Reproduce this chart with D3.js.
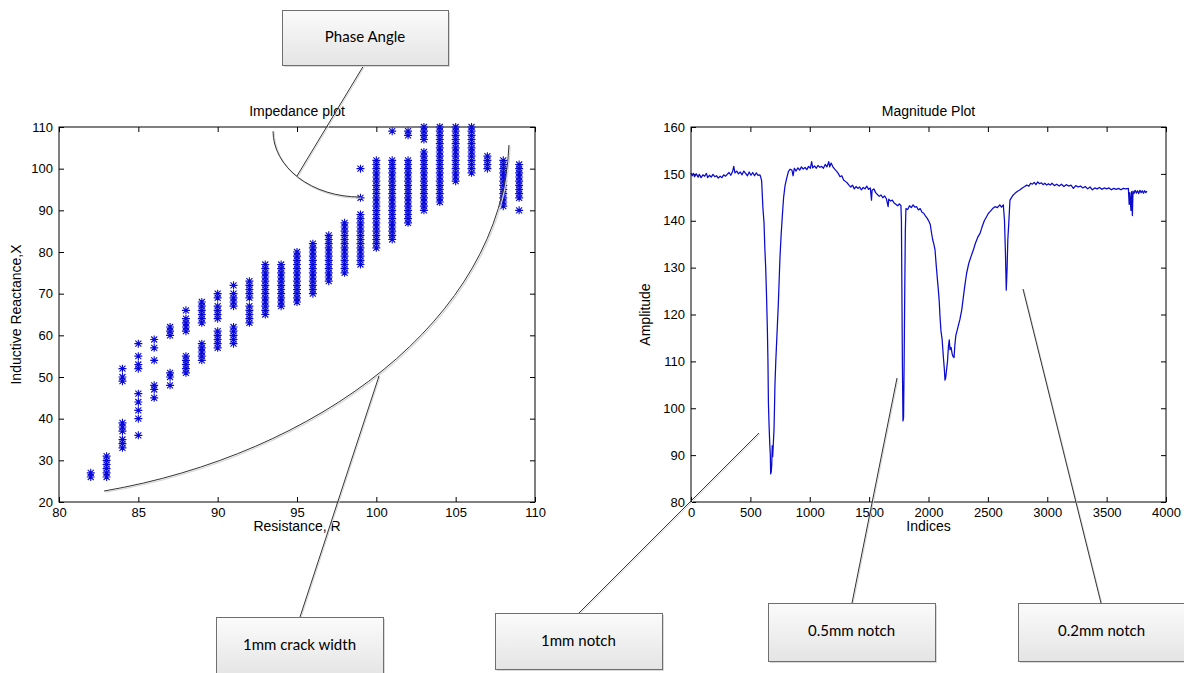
<!DOCTYPE html>
<html>
<head>
<meta charset="utf-8">
<script src="https://cdn.jsdelivr.net/npm/d3@7"></script>
<style>
  body { margin: 0; background: #fff; }
  svg { display: block; }
  text { font-family: "Liberation Sans", Arial, sans-serif; fill: #000; }
  .callout text { font-family: Lato, "Open Sans", sans-serif; font-size: 15px; }
</style>
</head>
<body>
<svg></svg>
<script>
const dims = { width: 1184, height: 673 }

// impedance plot: resistance columns and the reactance values stacked on each
const impedanceR = [82, 83, 84, 85, 86, 87, 88, 89, 90, 91, 92, 93, 94, 95, 96, 97, 98, 99, 100, 101, 102, 103, 104, 105, 106, 107, 108, 109]
const impedanceX = [
  [26, 27],
  [26, 27, 28, 29, 30, 31],
  [33, 34, 35, 37, 38, 39, 49, 50, 52],
  [36, 40, 42, 44, 46, 52, 53, 55, 58],
  [45, 47, 48, 54, 57, 59],
  [48, 50, 51, 60, 61, 62],
  [51, 52, 53, 54, 55, 61, 62, 63, 64, 66],
  [54, 55, 56, 57, 58, 63, 64, 65, 66, 67, 68],
  [57, 58, 59, 60, 61, 64, 65, 66, 67, 69, 70],
  [58, 59, 60, 61, 62, 67, 68, 69, 70, 72],
  [63, 64, 65, 66, 67, 69, 70, 71, 72, 73],
  [65, 66, 67, 68, 69, 70, 71, 72, 73, 74, 75, 76, 77],
  [67, 68, 69, 70, 71, 72, 73, 74, 75, 76, 77],
  [68, 69, 70, 71, 72, 73, 74, 75, 76, 77, 78, 79, 80],
  [70, 71, 72, 73, 74, 75, 76, 77, 78, 79, 80, 81, 82],
  [73, 74, 75, 76, 77, 78, 79, 80, 81, 82, 83, 84],
  [75, 76, 77, 78, 79, 80, 81, 82, 83, 84, 85, 86, 87],
  [77, 78, 79, 80, 81, 82, 83, 84, 85, 86, 87, 88, 89, 93, 100],
  [81, 82, 83, 84, 85, 86, 87, 88, 89, 90, 91, 92, 93, 94, 95, 96, 97, 98, 99, 100, 101, 102],
  [83, 84, 85, 86, 87, 88, 89, 90, 91, 92, 93, 94, 95, 96, 97, 98, 99, 100, 101, 102, 109],
  [87, 88, 89, 90, 91, 92, 93, 94, 95, 96, 97, 98, 99, 100, 101, 102, 108, 109],
  [90, 91, 92, 93, 94, 95, 96, 97, 98, 99, 100, 101, 102, 103, 104, 107, 108, 109, 110],
  [92, 93, 94, 95, 96, 97, 98, 99, 100, 101, 102, 103, 104, 105, 106, 107, 108, 109, 110],
  [97, 98, 99, 100, 101, 102, 103, 104, 105, 106, 107, 108, 109, 110],
  [99, 100, 101, 102, 103, 104, 105, 106, 107, 108, 109, 110],
  [100, 101, 102, 103],
  [91, 92, 93, 94, 95, 96, 97, 98, 99, 100, 101, 102],
  [90, 93, 94, 95, 96, 97, 98, 99, 100, 101]
]
const resistanceTicks = [80, 85, 90, 95, 100, 105, 110]
const reactanceTicks = [20, 30, 40, 50, 60, 70, 80, 90, 100, 110]

// magnitude plot: [index, amplitude]
const magnitudeSamples = [
  [0,150.2],[10,149.6],[20,150.1],[30,149.4],[45,150],[60,149.3],[70,149.9],[85,149.2],[100,149.8],[115,149.5],
  [130,150.1],[140,149.2],[155,149.7],[170,149.3],[185,149.9],[200,149.4],[215,149.6],[230,149.1],[245,149.5],[260,149.2],
  [275,149.8],[290,149.5],[305,149.9],[320,150.3],[335,149.7],[350,150.5],[360,151.6],[370,150.2],[385,150.6],[400,150],
  [415,150.4],[430,149.8],[445,150.6],[460,150.1],[475,149.6],[490,150.4],[505,149.7],[520,150.3],[535,149.6],[550,150.2],
  [565,149.7],[580,149.8],[585,149.5],[595,148.5],[605,143],[615,139.5],[622,134],[629,130],[636,124],[643,117],
  [648,110],[652,101],[658,96],[663,92.5],[668,90],[671,86],[676,86.5],[680,88],[684,92],[688,89.7],
  [699,95.4],[703,100],[707,105],[714,110],[721,114],[728,118],[735,122],[742,127],[749,132],[759,137],
  [769,141],[780,145],[792,147.5],[805,149],[820,150.5],[835,151],[850,150.8],[860,149.6],[870,151.2],[885,150.6],
  [900,151.3],[915,150.8],[930,151.5],[945,151],[960,151.4],[975,150.9],[990,151.6],[1005,151.2],[1016,152.6],[1025,151.3],
  [1040,151.7],[1055,151.2],[1070,151.8],[1085,151.4],[1100,151.6],[1115,151.2],[1130,152],[1145,151.5],[1160,152.6],[1168,151.5],
  [1180,152.3],[1195,151.5],[1210,151],[1225,150.6],[1240,150.1],[1255,149.4],[1270,149.6],[1285,148.7],[1300,148.4],[1315,148.1],
  [1330,147.6],[1345,147.2],[1360,147.6],[1375,146.8],[1390,147.3],[1405,146.9],[1420,147.2],[1435,146.6],[1450,147.1],[1465,146.8],
  [1480,147.4],[1495,146.7],[1510,147],[1520,144.4],[1525,146.5],[1540,146.8],[1555,146],[1570,145.6],[1585,145.2],[1600,145.5],
  [1615,144.9],[1630,145.3],[1645,144.7],[1660,143],[1665,144.6],[1680,144.2],[1695,144.4],[1710,143.8],[1725,143.5],[1740,143.2],
  [1755,143.6],[1768,143.2],[1772,140],[1776,125],[1780,110],[1785,97.3],[1790,98],[1795,110],[1800,125],[1805,138],
  [1810,142.6],[1825,142.4],[1840,143.2],[1855,142.8],[1870,143.4],[1885,142.9],[1900,143],[1915,142.3],[1930,142.6],[1945,141.8],
  [1960,141.6],[1975,141],[1990,140.5],[2005,139.8],[2015,139.2],[2025,137.5],[2035,136],[2045,135],[2055,133.8],[2065,130.5],
  [2075,127.5],[2083,125.2],[2090,123],[2097,119.5],[2105,116.5],[2115,114.6],[2125,111],[2133,108.5],[2139,106],[2145,106.5],
  [2152,108.2],[2160,110],[2168,113.2],[2175,114.6],[2181,112.5],[2190,113],[2200,111.5],[2208,111],[2215,110.8],[2222,113.5],
  [2230,115.5],[2237,116.2],[2250,117.5],[2265,119],[2280,121],[2290,123],[2305,126],[2321,128.8],[2340,131],[2360,132.5],
  [2378,133.8],[2395,135.2],[2415,136.5],[2434,137.3],[2450,138.6],[2470,140],[2490,140.9],[2505,141.6],[2520,142],[2540,142.6],
  [2560,143],[2580,142.8],[2600,143.4],[2615,142.9],[2630,143.4],[2640,140],[2648,133],[2655,125.2],[2662,130],[2668,136],
  [2676,139.5],[2686,144.4],[2700,145],[2714,145.5],[2730,145.9],[2750,146.3],[2771,146.6],[2790,147],[2810,147.3],[2827,147.6],
  [2845,147.4],[2860,148],[2875,147.8],[2890,148.2],[2905,147.7],[2920,148.3],[2935,147.9],[2950,148.1],[2965,147.7],[2980,148],
  [2995,147.6],[3010,147.9],[3025,147.6],[3040,148],[3060,147.5],[3080,147.8],[3100,147.4],[3120,147.8],[3140,147.3],[3160,147.7],
  [3180,147.4],[3200,147.6],[3220,146.9],[3240,147.5],[3260,147.2],[3280,147.4],[3300,147],[3320,147.3],[3340,146.8],[3360,147.2],
  [3380,146.6],[3400,147],[3420,146.8],[3440,147.1],[3460,146.7],[3480,147],[3500,146.8],[3520,147],[3540,146.6],[3560,146.9],
  [3580,146.7],[3600,146.9],[3620,146.6],[3640,146.9],[3660,146.8],[3683,146.9],[3690,143.5],[3695,146],[3705,142.2],[3710,146.2],
  [3717,141.1],[3722,146.3],[3730,145.8],[3740,146.5],[3750,145.9],[3760,146.4],[3770,145.8],[3780,146.5],[3790,146],[3800,146.4],
  [3810,145.9],[3820,146.4],[3830,146],[3840,146.3]
]
const indexTicks = [0, 500, 1000, 1500, 2000, 2500, 3000, 3500, 4000]
const amplitudeTicks = [80, 90, 100, 110, 120, 130, 140, 150, 160]

// hand-drawn annotation guides on the impedance plot, in data units
const phaseArcEnds = [[93.49, 109.0], [98.97, 93.2]]
// cubic bezier: start, control 1, control 2, end
const crackArc = [[82.84, 22.64], [96.13, 31.28], [107.92, 63.68], [108.36, 105.68]]

// callout boxes (page layout)
const callouts = [
  { text: 'Phase Angle', x: 282, y: 10, w: 166, h: 55, from: [364, 65], to: [297, 176] },
  { text: '1mm crack width', x: 216, y: 617, w: 167, h: 60, from: [300, 617], to: [379, 376] },
  { text: '1mm notch', x: 495, y: 613, w: 167, h: 56, from: [579, 613], to: [759, 433] },
  { text: '0.5mm notch', x: 768, y: 603, w: 167, h: 58, from: [852, 603], to: [897, 378] },
  { text: '0.2mm notch', x: 1018, y: 603, w: 167, h: 58, from: [1101, 603], to: [1023, 289] }
]

const svg = d3.select('svg')
  .attr('width', dims.width)
  .attr('height', dims.height)

const defs = svg.append('defs')
const grad = defs.append('linearGradient').attr('id', 'boxfill')
  .attr('x1', 0).attr('y1', 0).attr('x2', 0).attr('y2', 1)
grad.append('stop').attr('offset', '0%').attr('stop-color', '#fbfbfb')
grad.append('stop').attr('offset', '100%').attr('stop-color', '#e4e4e4')

// scales
const xL = d3.scaleLinear([80, 110], [59, 535])
const yL = d3.scaleLinear([20, 110], [502, 127])
const xR = d3.scaleLinear([0, 4000], [691, 1166])
const yR = d3.scaleLinear([80, 160], [502, 127])

function drawFrame(x, y, xTicks, yTicks, title, xLabel, yLabel, yLabelX) {
  const g = svg.append('g')
  const [x0, x1] = x.range()
  const [y0, y1] = y.range()
  const fmt = d3.format('d')
  const style = sel => {
    sel.select('.domain').remove()
    sel.selectAll('.tick line').attr('stroke', '#000')
    sel.selectAll('text').attr('font-size', 13).attr('font-family', '"Liberation Sans", Arial, sans-serif').attr('fill', '#000')
  }
  g.append('g').attr('transform', `translate(0,${y0})`)
    .call(d3.axisBottom(x).tickValues(xTicks).tickFormat(fmt).tickSizeInner(-5).tickSizeOuter(0).tickPadding(6))
    .call(style)
  g.append('g').attr('transform', `translate(0,${y1})`)
    .call(d3.axisTop(x).tickValues(xTicks).tickSizeInner(-5).tickSizeOuter(0).tickFormat(''))
    .call(style)
  g.append('g').attr('transform', `translate(${x0},0)`)
    .call(d3.axisLeft(y).tickValues(yTicks).tickFormat(fmt).tickSizeInner(-5).tickSizeOuter(0).tickPadding(6))
    .call(style)
  g.append('g').attr('transform', `translate(${x1},0)`)
    .call(d3.axisRight(y).tickValues(yTicks).tickSizeInner(-5).tickSizeOuter(0).tickFormat(''))
    .call(style)
  g.append('rect')
    .attr('x', x0).attr('y', y1)
    .attr('width', x1 - x0).attr('height', y0 - y1)
    .attr('fill', 'none').attr('stroke', '#000').attr('stroke-width', 1)
  g.append('text')
    .attr('x', (x0 + x1) / 2).attr('y', y1 - 11)
    .attr('text-anchor', 'middle').attr('font-size', 14)
    .text(title)
  g.append('text')
    .attr('x', (x0 + x1) / 2).attr('y', y0 + 29)
    .attr('text-anchor', 'middle').attr('font-size', 14)
    .text(xLabel)
  g.append('text')
    .attr('transform', `translate(${yLabelX},${(y0 + y1) / 2}) rotate(-90)`)
    .attr('text-anchor', 'middle').attr('font-size', 14)
    .text(yLabel)
}

drawFrame(xL, yL, resistanceTicks, reactanceTicks, 'Impedance plot', 'Resistance, R', 'Inductive Reactance,X', 21)
drawFrame(xR, yR, indexTicks, amplitudeTicks, 'Magnitude Plot', 'Indices', 'Amplitude', 650)

// impedance stars
const impedancePoints = impedanceR.flatMap((r, i) => impedanceX[i].map(v => [r, v]))
const star = 'M-4,0H4M0,-4V4M-3,-3L3,3M-3,3L3,-3'
svg.append('g').selectAll('path').data(impedancePoints)
  .enter().append('path')
    .attr('d', star)
    .attr('transform', d => `translate(${xL(d[0])},${yL(d[1])})`)
    .attr('stroke', '#0a0ad8')
    .attr('stroke-width', 1.1)
    .attr('fill', 'none')

// magnitude trace
const magLine = d3.line().x(d => xR(d[0])).y(d => yR(d[1]))
svg.append('path')
  .datum(magnitudeSamples)
  .attr('d', magLine)
  .attr('fill', 'none')
  .attr('stroke', '#0a0ad0')
  .attr('stroke-width', 1.25)
  .attr('stroke-linejoin', 'round')

// annotation arcs
const cp = crackArc.map(d => [xL(d[0]), yL(d[1])])
const crackPath = d3.path()
crackPath.moveTo(cp[0][0], cp[0][1])
crackPath.bezierCurveTo(cp[1][0], cp[1][1], cp[2][0], cp[2][1], cp[3][0], cp[3][1])
const [ps, pe] = phaseArcEnds.map(d => [xL(d[0]), yL(d[1])])
const phasePath = `M${ps[0]},${ps[1]} A${pe[0] - ps[0]},${pe[1] - ps[1]} 0 0 0 ${pe[0]},${pe[1]}`
const annot = svg.append('g')
;[phasePath, crackPath.toString()].forEach(d => {
  annot.append('path').attr('d', d)
    .attr('transform', 'translate(1.2,1.2)')
    .attr('fill', 'none').attr('stroke', '#d6d6d6').attr('stroke-width', 1.2)
  annot.append('path').attr('d', d)
    .attr('fill', 'none').attr('stroke', '#333').attr('stroke-width', 1)
})

// callouts
const cg = svg.append('g').attr('class', 'callout')
callouts.forEach(c => {
  cg.append('line')
    .attr('x1', c.from[0] + 1).attr('y1', c.from[1] + 1)
    .attr('x2', c.to[0] + 1).attr('y2', c.to[1] + 1)
    .attr('stroke', '#d6d6d6').attr('stroke-width', 1)
  cg.append('line')
    .attr('x1', c.from[0]).attr('y1', c.from[1])
    .attr('x2', c.to[0]).attr('y2', c.to[1])
    .attr('stroke', '#333').attr('stroke-width', 1)
  cg.append('rect')
    .attr('x', c.x + 2).attr('y', c.y + 2).attr('width', c.w).attr('height', c.h)
    .attr('fill', '#d9d9d9')
  cg.append('rect')
    .attr('x', c.x + 0.5).attr('y', c.y + 0.5).attr('width', c.w).attr('height', c.h)
    .attr('fill', 'url(#boxfill)').attr('stroke', '#6f6f6f').attr('stroke-width', 1)
  cg.append('text')
    .attr('x', c.x + c.w / 2).attr('y', c.y + Math.min(c.h, 56) / 2 + 1)
    .attr('text-anchor', 'middle').attr('dominant-baseline', 'middle')
    .text(c.text)
})
</script>
</body>
</html>
